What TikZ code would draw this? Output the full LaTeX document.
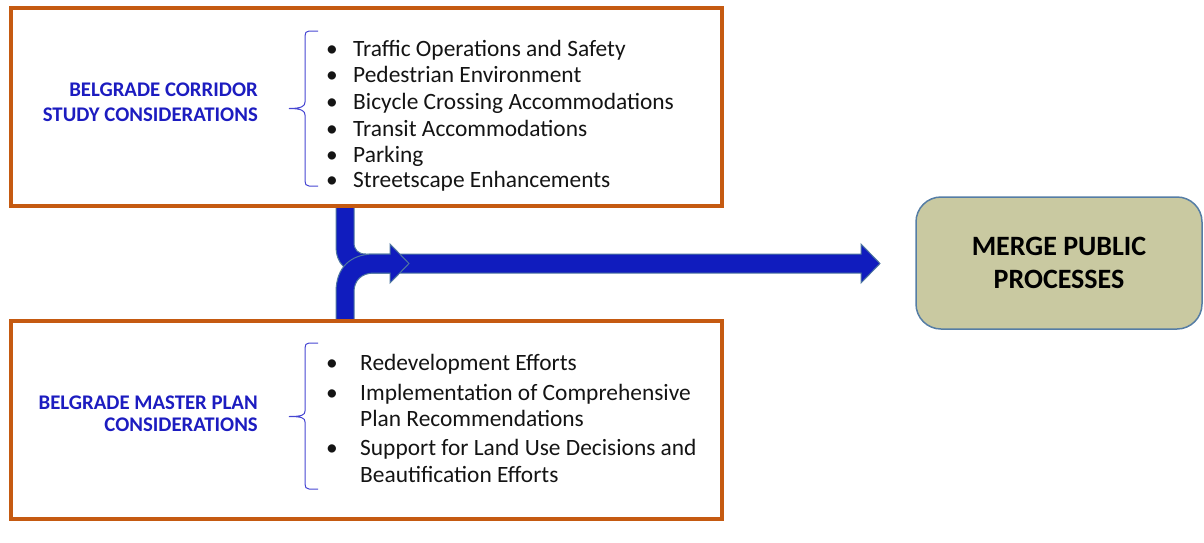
\documentclass[tikz,border=0pt]{standalone}
\usepackage{fontspec}
\setmainfont{Carlito}

\definecolor{boxorange}{RGB}{197,90,17}
\definecolor{arrowblue}{RGB}{16,28,190}
\definecolor{arrowedge}{RGB}{80,120,160}
\definecolor{labelblue}{RGB}{28,28,192}
\definecolor{bracecol}{RGB}{70,70,210}
\definecolor{mergefill}{RGB}{201,201,161}
\definecolor{mergeedge}{RGB}{85,125,165}
\definecolor{bodytext}{RGB}{20,20,20}

\tikzset{
  box/.style={draw=boxorange, line width=4.5pt, minimum width=711pt, minimum height=198pt, inner sep=0pt},
  sidelabel/.style={font=\fontsize{20.8}{24}\selectfont\bfseries, text=labelblue, anchor=base east, inner sep=0pt},
  itemtext/.style={font=\fontsize{23.4}{26}\selectfont, text=bodytext, anchor=base west, inner sep=0pt},
  dot/.style={font=\fontsize{23.4}{26}\selectfont, text=bodytext, anchor=base, inner sep=0pt},
  band/.style={fill=arrowblue, draw=arrowedge, line width=1pt},
  curly/.style={draw=bracecol, line width=1pt},
}

\begin{document}
\begin{tikzpicture}[x=1pt,y=-1pt]
  \useasboundingbox (0,0) rectangle (1204,542);

  % merging arrows
  \filldraw[band] (395,254) -- (861,254) -- (861,244) -- (880,263.5) -- (861,283) -- (861,273) -- (395,273) -- cycle;
  \filldraw[band] (336,207) -- (336,246) .. controls (336,264) and (346,273) .. (364,273) -- (392,273) -- (392,254) -- (366,254) .. controls (358,254) and (354,250) .. (354,242) -- (354,207) -- cycle;
  \filldraw[band] (336,320) -- (336,292) .. controls (336,268) and (350,254) .. (374,254) -- (390,254) -- (390,244) -- (409,263.5) -- (390,283) -- (390,273) -- (374,273) .. controls (362,273) and (354,280) .. (354,292) -- (354,320) -- cycle;

  % boxes
  \node[box] (corridor) at (366.5,107) {};
  \node[box] (master) at (366.5,420) {};
  \node[draw=mergeedge, fill=mergefill, line width=1.5pt, rounded corners=25pt,
        minimum width=286pt, minimum height=132pt, align=center,
        font=\fontsize{28}{33}\selectfont\bfseries] (merge) at (1059,263) {MERGE PUBLIC\\PROCESSES};

  % labels
  \node[sidelabel] (corrA) at (258,96) {BELGRADE CORRIDOR};
  \node[sidelabel] (corrB) at (258,121.7) {STUDY CONSIDERATIONS};
  \node[sidelabel] (mastA) at (258,409.3) {BELGRADE MASTER PLAN};
  \node[sidelabel] (mastB) at (258,431.7) {CONSIDERATIONS};

  % braces
  \draw[curly] (318,31) -- (309,31) .. controls (306,31) and (305,33) .. (305,36) -- (305,102)
    .. controls (305,106) and (302,108.5) .. (289,108.5) .. controls (302,108.5) and (305,111) .. (305,115)
    -- (305,181) .. controls (305,184) and (306,186) .. (309,186) -- (318,186);
  \draw[curly] (318,343) -- (309,343) .. controls (306,343) and (305,345) .. (305,348) -- (305,411)
    .. controls (305,415) and (302,416.5) .. (289,416.5) .. controls (302,416.5) and (305,418) .. (305,422)
    -- (305,484) .. controls (305,487) and (306,489) .. (309,489) -- (318,489);

  % corridor items
  \foreach \t/\y [count=\i] in {Traffic Operations and Safety/56, Pedestrian Environment/82.3,
      Bicycle Crossing Accommodations/109, Transit Accommodations/136, Parking/162,
      Streetscape Enhancements/187}{
    \node[dot] (cb\i) at (332,\y) {\textbullet};
    \node[itemtext] (ci\i) at (353,\y) {\t};
  }

  % master plan items
  \foreach \t/\y [count=\i] in {Redevelopment Efforts/370.7, Implementation of Comprehensive/400,
      Plan Recommendations/426.7, Support for Land Use Decisions and/455, Beautification Efforts/482.7}
    \node[itemtext] (mi\i) at (360,\y) {\t};
  \foreach \y [count=\i] in {370.7,400,455}
    \node[dot] (mb\i) at (332,\y) {\textbullet};
\end{tikzpicture}
\end{document}
